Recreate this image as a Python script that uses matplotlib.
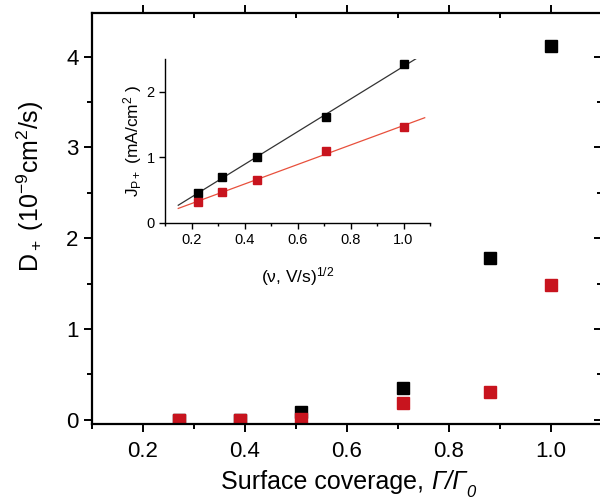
import numpy as np
import matplotlib
matplotlib.use("Agg")
import matplotlib.pyplot as plt
from matplotlib.ticker import MultipleLocator

plt.rcParams['font.family'] = ['Liberation Sans', 'DejaVu Sans']
plt.rcParams['mathtext.fontset'] = 'custom'
plt.rcParams['mathtext.rm'] = 'Liberation Sans'
plt.rcParams['mathtext.it'] = 'Liberation Sans:italic'
plt.rcParams['mathtext.bf'] = 'Liberation Sans:bold'

# main panel: diffusion coefficient vs surface coverage
coverage = [0.27, 0.39, 0.51, 0.71, 0.88, 1.00]
d_black = [0.0, 0.0, 0.09, 0.35, 1.78, 4.12]
d_red = [0.0, 0.0, 0.01, 0.19, 0.31, 1.48]

# inset: peak current vs sqrt(scan rate)
sqrt_v = [0.224, 0.316, 0.447, 0.707, 1.000]
j_black = [0.46, 0.70, 1.00, 1.61, 2.42]
j_red = [0.31, 0.47, 0.66, 1.09, 1.46]

RED = '#c8141e'

fig = plt.figure(figsize=(6, 5), dpi=100)
ax = fig.add_axes([0.153, 0.152, 0.85, 0.822])

ax.plot(coverage, d_black, 's', color='black', ms=8.5, ls='none')
ax.plot(coverage, d_red, 's', color=RED, ms=8.5, ls='none')

ax.set_xlim(0.1, 1.1)
ax.set_ylim(-0.045, 4.48)
ax.xaxis.set_minor_locator(MultipleLocator(0.1))
ax.yaxis.set_major_locator(MultipleLocator(1))
ax.yaxis.set_minor_locator(MultipleLocator(0.5))
ax.set_xticks([0.2, 0.4, 0.6, 0.8, 1.0])
ax.set_xticklabels(['0.2', '0.4', '0.6', '0.8', '1.0'])

for s in ax.spines.values():
    s.set_linewidth(1.6)
ax.tick_params(which='both', width=1.4, labelsize=16, direction='out')
ax.tick_params(which='major', length=6)
ax.tick_params(which='minor', length=3.5)
ax.tick_params(axis='x', which='both', top=True)
ax.tick_params(axis='y', which='both', right=True)
# top/right ticks point inward
for t in ax.xaxis.get_major_ticks() + ax.xaxis.get_minor_ticks():
    t.tick2line.set_marker(3)
for t in ax.yaxis.get_major_ticks() + ax.yaxis.get_minor_ticks():
    t.tick2line.set_marker(0)
ax.tick_params(axis='x', pad=6)

# x label: upright words, italic Gamma ratio with subscript 0
t1 = fig.text(221 / 600, 0.022, 'Surface coverage, ', fontsize=18,
              ha='left', va='baseline')
t2 = ax.annotate('Γ/Γ', xy=(1, 0), xycoords=t1, ha='left', va='bottom',
                 fontsize=18, style='italic', annotation_clip=False)
t3 = ax.annotate('0', xy=(1, 0), xycoords=t2, xytext=(0, -4),
                 textcoords='offset points', ha='left', va='bottom',
                 fontsize=12, style='italic', annotation_clip=False)

ax.set_ylabel(r'D$_+$ (10$^{-9}$cm$^2$/s)', fontsize=18)
ax.yaxis.set_label_coords(-0.09, 0.578)

# inset
ins = fig.add_axes([0.275, 0.5546, 0.4417, 0.327])
ins.plot(sqrt_v, j_black, 's', color='black', ms=5.5, zorder=3)
ins.plot(sqrt_v, j_red, 's', color=RED, ms=5.5, zorder=3)

kb = np.polyfit(sqrt_v, j_black, 1)
kr = np.polyfit(sqrt_v, j_red, 1)
xb = np.array([0.15, 1.05])
xr = np.array([0.15, 1.08])
ins.plot(xb, np.polyval(kb, xb), color='#333333', lw=0.9)
ins.plot(xr, np.polyval(kr, xr), color='#e8503c', lw=0.9)

ins.set_xlim(0.1, 1.1)
ins.set_ylim(0, 2.5)
ins.set_xticks([0.2, 0.4, 0.6, 0.8, 1.0])
ins.set_xticklabels(['0.2', '0.4', '0.6', '0.8', '1.0'])
ins.xaxis.set_minor_locator(MultipleLocator(0.1))
ins.set_yticks([0, 1, 2])
ins.spines['top'].set_visible(False)
ins.spines['right'].set_visible(False)
for s in ['left', 'bottom']:
    ins.spines[s].set_linewidth(1.0)
ins.tick_params(which='both', direction='out', labelsize=10.5, width=1.0)
ins.tick_params(which='major', length=4)
ins.tick_params(which='minor', length=2.5)
ins.patch.set_alpha(0)

ins.set_xlabel(r'(ν, V/s)$^{1/2}$', fontsize=12.5, labelpad=13)
ins.set_ylabel(r'J$_{\mathrm{P+}}$ (mA/cm$^2$ )', fontsize=12.5, labelpad=2)

fig.savefig('out.png', dpi=100)
